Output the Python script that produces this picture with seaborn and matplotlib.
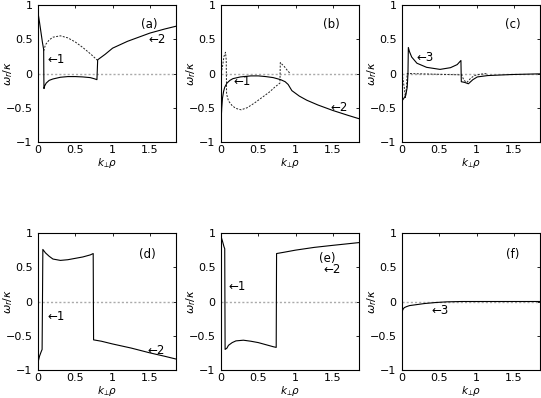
import numpy as np
import pandas as pd
import seaborn as sns
import matplotlib
matplotlib.use("Agg")
import matplotlib.pyplot as plt

# panel (a)
a_solid_x = [0, 0.02, 0.04, 0.06, 0.076, 0.078, 0.08, 0.09, 0.11, 0.15, 0.2, 0.3, 0.4, 0.5, 0.6, 0.7, 0.75, 0.79, 0.795, 0.8, 0.85, 0.9, 1.0, 1.1, 1.2, 1.3, 1.4, 1.5, 1.6, 1.7, 1.85]
a_solid_y = [0.89, 0.75, 0.6, 0.45, 0.35, 0.0, -0.22, -0.18, -0.14, -0.1, -0.08, -0.055, -0.045, -0.045, -0.05, -0.06, -0.075, -0.09, 0.05, 0.2, 0.24, 0.28, 0.37, 0.42, 0.47, 0.51, 0.55, 0.59, 0.62, 0.65, 0.69]
a_dash_x = [0.076, 0.1, 0.15, 0.2, 0.3, 0.4, 0.5, 0.6, 0.7, 0.8]
a_dash_y = [0.33, 0.42, 0.49, 0.53, 0.55, 0.52, 0.46, 0.38, 0.29, 0.19]

# panel (b)
b_solid_x = [0, 0.01, 0.02, 0.035, 0.05, 0.08, 0.12, 0.16, 0.26, 0.4, 0.5, 0.6, 0.7, 0.8, 0.86, 0.9, 0.95, 1.05, 1.15, 1.3, 1.5, 1.7, 1.85]
b_solid_y = [-0.71, -0.5, -0.36, -0.26, -0.2, -0.14, -0.1, -0.075, -0.05, -0.035, -0.035, -0.045, -0.06, -0.09, -0.12, -0.16, -0.25, -0.33, -0.39, -0.46, -0.54, -0.61, -0.66]
b_dash_x = [0.0, 0.02, 0.04, 0.06, 0.07, 0.075, 0.1, 0.15, 0.2, 0.27, 0.35, 0.45, 0.55, 0.65, 0.72, 0.79, 0.795, 0.85, 0.9, 0.93]
b_dash_y = [0.0, 0.1, 0.25, 0.31, 0.2, -0.3, -0.4, -0.47, -0.51, -0.53, -0.5, -0.43, -0.35, -0.27, -0.2, -0.14, 0.16, 0.1, 0.03, 0.0]

# panel (c)
c_solid_x = [0, 0.02, 0.05, 0.07, 0.08, 0.085, 0.1, 0.13, 0.2, 0.33, 0.51, 0.65, 0.74, 0.79, 0.795, 0.84, 0.89, 0.95, 1.01, 1.15, 1.47, 1.85]
c_solid_y = [-0.4, -0.37, -0.32, -0.2, 0.0, 0.38, 0.32, 0.24, 0.15, 0.09, 0.06, 0.085, 0.13, 0.19, -0.12, -0.13, -0.15, -0.09, -0.05, -0.03, -0.015, -0.005]
c_dash_x = [0.0, 0.03, 0.045, 0.06, 0.07, 0.8, 0.83, 0.87, 0.92, 0.97, 1.05, 1.15]
c_dash_y = [0.0, -0.2, -0.35, -0.2, 0.0, -0.02, -0.1, -0.13, -0.07, -0.03, -0.01, 0.0]

# panel (d)
d_solid_x = [0, 0.02, 0.04, 0.055, 0.06, 0.065, 0.1, 0.15, 0.2, 0.3, 0.4, 0.5, 0.6, 0.7, 0.74, 0.745, 0.85, 1.0, 1.25, 1.5, 1.7, 1.85]
d_solid_y = [-0.89, -0.8, -0.74, -0.7, 0.0, 0.76, 0.71, 0.66, 0.62, 0.6, 0.61, 0.63, 0.65, 0.68, 0.7, -0.56, -0.58, -0.62, -0.68, -0.75, -0.8, -0.84]

# panel (e)
e_solid_x = [0, 0.02, 0.04, 0.05, 0.055, 0.08, 0.1, 0.15, 0.2, 0.3, 0.4, 0.5, 0.6, 0.7, 0.74, 0.745, 0.85, 1.0, 1.25, 1.5, 1.85]
e_solid_y = [0.95, 0.88, 0.8, 0.77, -0.7, -0.68, -0.64, -0.6, -0.575, -0.565, -0.58, -0.6, -0.63, -0.66, -0.67, 0.7, 0.72, 0.75, 0.79, 0.82, 0.86]

# panel (f)
f_solid_x = [0, 0.01, 0.03, 0.06, 0.1, 0.2, 0.3, 0.45, 0.6, 0.8, 1.85]
f_solid_y = [-0.17, -0.12, -0.09, -0.075, -0.06, -0.045, -0.03, -0.015, -0.005, 0.0, 0.0]

zero_x = [0, 1.85]
zero_y = [0, 0]

panel_tags = ["(a)", "(b)", "(c)", "(d)", "(e)", "(f)"]
tag_pos = [(1.49, 0.72), (1.48, 0.72), (1.49, 0.72), (1.47, 0.69), (1.42, 0.63), (1.48, 0.69)]
arrow_notes = [
    [("\u21901", 0.13, 0.2), ("\u21902", 1.48, 0.5)],
    [("\u21901", 0.17, -0.12), ("\u21902", 1.47, -0.49)],
    [("\u21903", 0.19, 0.24)],
    [("\u21901", 0.13, -0.22), ("\u21902", 1.47, -0.71)],
    [("\u21901", 0.1, 0.22), ("\u21902", 1.37, 0.46)],
    [("\u21903", 0.39, -0.13)],
]

solids = [(a_solid_x, a_solid_y), (b_solid_x, b_solid_y), (c_solid_x, c_solid_y),
          (d_solid_x, d_solid_y), (e_solid_x, e_solid_y), (f_solid_x, f_solid_y)]
dashes = [(a_dash_x, a_dash_y), (b_dash_x, b_dash_y), (c_dash_x, c_dash_y), None, None, None]

sns.set_style("white")
plt.rcParams["font.family"] = ["DejaVu Sans"]
plt.rcParams["mathtext.fontset"] = "dejavusans"
plt.rcParams["text.color"] = "black"
plt.rcParams["axes.labelcolor"] = "black"
plt.rcParams["xtick.color"] = "black"
plt.rcParams["ytick.color"] = "black"

fs = 8
fig = plt.figure(figsize=(5.41, 3.98), dpi=100)
lefts = [38 / 541, 221 / 541, 402 / 541]
bottoms = [1 - 142 / 398, 1 - 370 / 398]
w = 138 / 541
h = 137 / 398

for i in range(6):
    ax = fig.add_axes([lefts[i % 3], bottoms[i // 3], w, h])
    sns.lineplot(x=zero_x, y=zero_y, ax=ax, color="#aaaaaa", lw=1.0,
                 linestyle=(0, (1.5, 1.5)), sort=False, estimator=None)
    if dashes[i] is not None:
        sns.lineplot(x=dashes[i][0], y=dashes[i][1], ax=ax, color="#222222", lw=0.7,
                     linestyle=(0, (2, 1.5)), sort=False, estimator=None)
    sns.lineplot(x=solids[i][0], y=solids[i][1], ax=ax, color="black", lw=0.8,
                 sort=False, estimator=None)
    ax.set_xlim(0, 1.85)
    ax.set_ylim(-1, 1)
    ax.set_xticks([0, 0.5, 1, 1.5])
    ax.set_xticklabels(["0", "0.5", "1", "1.5"])
    ax.set_yticks([-1, -0.5, 0, 0.5, 1])
    ax.set_yticklabels(["\u22121", "\u22120.5", "0", "0.5", "1"])
    ax.tick_params(direction="in", top=True, right=True, length=2.5, width=0.6,
                   labelsize=fs, pad=2.5)
    ax.tick_params(axis="y", pad=4)
    for s in ax.spines.values():
        s.set_linewidth(0.8)
        s.set_color("black")
    ax.set_xlabel(r"$k_{\!\perp}\!\rho$", fontsize=7.5)
    ax.set_ylabel(r"$\omega_r/\kappa$", fontsize=fs)
    ax.xaxis.set_label_coords(0.5, -0.105)
    ax.yaxis.set_label_coords(-0.17, 0.5)
    ax.text(tag_pos[i][0], tag_pos[i][1], panel_tags[i], fontsize=8.5, ha="center", va="center")
    for txt, tx, ty in arrow_notes[i]:
        ax.text(tx, ty, txt, fontsize=8.5, ha="left", va="center")

fig.savefig("out.png", dpi=100)
